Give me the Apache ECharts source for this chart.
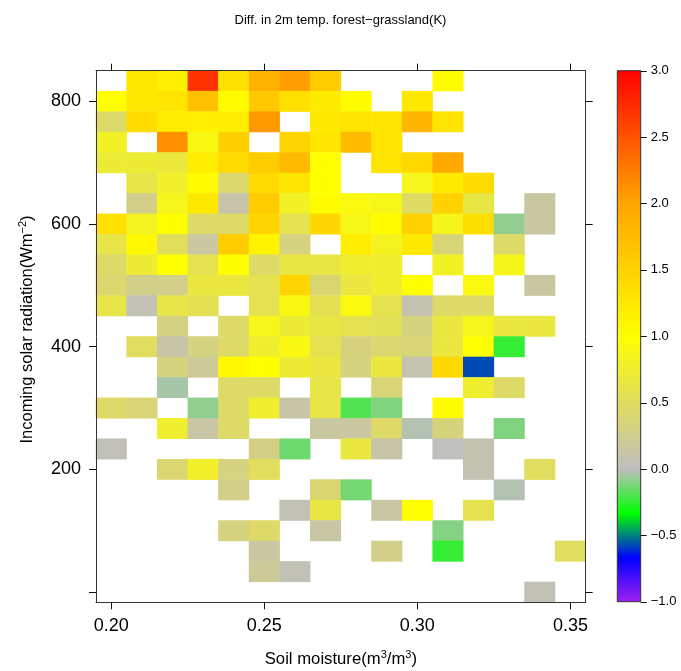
<!DOCTYPE html>
<html>
<head>
<meta charset="utf-8">
<title>Diff. in 2m temp. forest-grassland</title>
<script src="https://cdn.jsdelivr.net/npm/echarts@6/dist/echarts.min.js"></script>
<style>
  html, body { margin: 0; padding: 0; background: #fff; }
  #chart { width: 681px; height: 671px; }
</style>
</head>
<body>
<div id="chart"></div>
<script>
// soil moisture bins (m3/m3), one column each
const soilMoisture = ['0.20', '0.21', '0.22', '0.23', '0.24', '0.25', '0.26', '0.27',
    '0.28', '0.29', '0.30', '0.31', '0.32', '0.33', '0.34', '0.35'];

// incoming solar radiation bins (W m-2), bottom to top
const solarRadiation = ['0', '33', '67', '100', '133', '167', '200', '233', '267', '300',
    '333', '367', '400', '433', '467', '500', '533', '567', '600', '633', '667', '700',
    '733', '767', '800', '833'];

// temperature difference (K), rows from 833 down to 0, null = no data
const diffRows = [
    [null, 1.26, 1.17, 2.69, 1.32, 1.84, 2.03, 1.57, null, null, null, 1.03, null, null, null, null],
    [1.0, 1.26, 1.29, 1.7, 1.03, 1.61, 1.34, 1.22, 1.03, null, 1.26, null, null, null, null, null],
    [0.45, 1.39, 1.19, 1.17, 1.19, 2.07, null, 1.25, 1.3, 1.28, 1.81, 1.3, null, null, null, null],
    [0.8, null, 2.13, 0.9, 1.52, null, 1.47, 1.28, 1.76, 1.3, null, null, null, null, null, null],
    [0.72, 0.72, 0.68, 1.19, 1.41, 1.57, 1.76, 1.0, null, 1.3, 1.43, 1.95, null, null, null, null],
    [null, 0.62, 0.78, 1.03, 0.42, 1.41, 1.28, 1.0, null, null, 0.85, 1.23, 1.39, null, null, null],
    [null, 0.28, 0.85, 1.26, 0.1, 1.57, 0.8, 1.03, 0.92, 0.88, 0.48, 1.5, 0.64, null, 0.15, null],
    [1.34, 0.82, 1.0, 0.46, 0.46, 1.47, 0.58, 1.44, 0.88, 1.03, 1.5, 0.86, 1.36, -0.08, 0.15, null],
    [0.62, 1.08, 0.52, 0.16, 1.57, 1.12, 0.33, null, 1.19, 0.83, 1.26, 0.38, null, 0.45, null, null],
    [0.45, 0.72, 1.0, 0.58, 1.0, 0.46, 0.64, 0.64, 0.75, 0.75, null, 0.8, null, 0.86, null, null],
    [0.42, 0.28, 0.28, 0.66, 0.66, 0.58, 1.45, 0.4, 0.66, 0.75, 1.0, null, 0.92, null, 0.15, null],
    [0.62, 0.05, 0.62, 0.56, null, 0.58, 0.9, 0.56, 0.92, 0.58, 0.07, 0.46, 0.46, null, null, null],
    [null, null, 0.32, null, 0.46, 0.85, 0.72, 0.64, 0.58, 0.54, 0.33, 0.66, 0.85, 0.66, 0.66, null],
    [null, 0.5, 0.12, 0.33, 0.46, 0.75, 0.9, 0.58, 0.35, 0.41, 0.38, 0.66, 1.0, -0.24, null, null],
    [null, null, 0.33, 0.2, 1.08, 1.0, 0.72, 0.66, 0.33, 0.66, 0.08, 1.43, -0.57, null, null, null],
    [null, null, -0.04, null, 0.46, 0.46, null, 0.62, null, 0.38, null, null, 0.75, 0.46, null, null],
    [0.46, 0.38, null, -0.08, 0.46, 0.75, 0.12, 0.62, -0.19, -0.11, null, 1.03, null, null, null, null],
    [null, null, 0.75, 0.14, 0.46, null, null, 0.16, 0.16, 0.46, -0.02, 0.35, null, -0.11, null, null],
    [0.04, null, null, null, null, 0.3, -0.14, null, 0.66, 0.12, null, 0.01, 0.07, null, null, null],
    [null, null, 0.41, 0.78, 0.33, 0.5, null, null, null, null, null, null, 0.07, null, 0.5, null],
    [null, null, null, null, 0.28, null, null, 0.4, -0.13, null, null, null, null, -0.02, null, null],
    [null, null, null, null, null, null, 0.05, 0.64, null, 0.14, 1.0, null, 0.58, null, null, null],
    [null, null, null, null, 0.33, 0.46, null, 0.14, null, null, null, -0.1, null, null, null, null],
    [null, null, null, null, null, 0.16, null, null, null, 0.28, null, -0.24, null, null, null, 0.5],
    [null, null, null, null, null, 0.2, 0.05, null, null, null, null, null, null, null, null, null],
    [null, null, null, null, null, null, null, null, null, null, null, null, null, null, 0.05, null]
];

// colour scale, evenly spaced from colorMin to colorMax
const colorMin = -1;
const colorMax = 3;
const paletteColors = ['#A020F0', '#0000FF', '#00FF00', '#BEBEBE', '#D5D27F', '#EAE83F',
    '#FFFF00', '#FFE100', '#FFC300', '#FFA500', '#FF6E00', '#FF3700', '#FF0000'];
const colorbarTicks = [-1, -0.5, 0, 0.5, 1, 1.5, 2, 2.5, 3];

const FONT = '"Liberation Sans", Arial, Helvetica, sans-serif';
const INK = '#000';

const heatData = [];
diffRows.forEach((row, r) => {
    row.forEach((v, c) => {
        if (v !== null) {
            heatData.push([c, solarRadiation.length - 1 - r, v]);
        }
    });
});

const gradientStops = paletteColors.map((color, i) => ({
    offset: i / (paletteColors.length - 1),
    color: color
}));

const xTickEvery = (i) => i % 5 === 0;
const yTickEvery = (i) => i % 6 === 0;

const tickStyle = { color: '#111', width: 1, opacity: 1 };
const frameStyle = { color: '#333', width: 1 };

function fmtColorbar(v) {
    return v < 0 ? '\u2212' + Math.abs(v).toFixed(1) : v.toFixed(1);
}

const supStyle = { fontSize: 11, lineHeight: 11, verticalAlign: 'top', color: INK, fontFamily: FONT };

const chart = echarts.init(document.getElementById('chart'));

const option = {
    animation: false,
    backgroundColor: '#fff',
    textStyle: { fontFamily: FONT, color: INK },
    title: {
        text: 'Diff. in 2m temp. forest\u2212grassland(K)',
        left: 'center',
        top: 9,
        textStyle: { fontFamily: FONT, fontSize: 13, fontWeight: 'normal', color: INK }
    },
    grid: [
        { left: 96, top: 70.7, width: 489.7, height: 531.6, containLabel: false, outerBoundsMode: 'none' },
        { left: 617.3, top: 70.7, width: 23.4, height: 531, containLabel: false, outerBoundsMode: 'none' }
    ],
    xAxis: [
        {
            gridIndex: 0,
            type: 'category',
            data: soilMoisture,
            position: 'bottom',
            z: 5,
            axisLine: { show: true, lineStyle: frameStyle },
            axisTick: { show: true, inside: false, alignWithLabel: true, interval: xTickEvery, length: 7, lineStyle: tickStyle },
            axisLabel: { show: true, interval: xTickEvery, fontSize: 18, color: INK, margin: 15, fontFamily: FONT },
            splitLine: { show: false },
            name: 'Soil moisture(m{sup|3}/m{sup|3})',
            nameLocation: 'middle',
            nameGap: 47,
            nameTextStyle: {
                fontSize: 16.7, color: INK, fontFamily: FONT, lineHeight: 20,
                rich: { sup: supStyle }
            }
        },
        {
            gridIndex: 0,
            type: 'category',
            data: soilMoisture,
            position: 'top',
            z: 5,
            axisLine: { show: true, lineStyle: frameStyle },
            axisTick: { show: true, inside: false, alignWithLabel: true, interval: xTickEvery, length: 7, lineStyle: tickStyle },
            axisLabel: { show: false },
            splitLine: { show: false }
        },
        { gridIndex: 1, type: 'value', min: 0, max: 1, show: false }
    ],
    yAxis: [
        {
            gridIndex: 0,
            type: 'category',
            data: solarRadiation,
            position: 'left',
            z: 5,
            axisLine: { show: true, lineStyle: frameStyle },
            axisTick: { show: true, inside: false, alignWithLabel: true, interval: yTickEvery, length: 7, lineStyle: tickStyle },
            axisLabel: { show: true, interval: (i) => i % 6 === 0 && i > 0, fontSize: 18, color: INK, margin: 15, fontFamily: FONT },
            splitLine: { show: false },
            name: 'Incoming solar radiation(Wm{sup|\u22122})',
            nameLocation: 'middle',
            nameGap: 59,
            nameTextStyle: {
                fontSize: 16.5, color: INK, fontFamily: FONT, lineHeight: 20,
                padding: [0, 0, 0, 14],
                rich: { sup: supStyle }
            }
        },
        {
            gridIndex: 0,
            type: 'category',
            data: solarRadiation,
            position: 'right',
            z: 5,
            axisLine: { show: true, lineStyle: frameStyle },
            axisTick: { show: true, inside: false, alignWithLabel: true, interval: yTickEvery, length: 7, lineStyle: tickStyle },
            axisLabel: { show: false },
            splitLine: { show: false }
        },
        {
            gridIndex: 1,
            type: 'value',
            min: colorMin,
            max: colorMax,
            interval: 0.5,
            position: 'right',
            z: 5,
            axisLine: { show: false, onZero: false },
            axisTick: { show: false },
            axisLabel: { show: true, formatter: fmtColorbar, fontSize: 13, color: INK, margin: 10, fontFamily: FONT },
            splitLine: { show: false }
        }
    ],
    visualMap: {
        show: false,
        type: 'continuous',
        seriesIndex: 0,
        dimension: 2,
        min: colorMin,
        max: colorMax,
        inRange: { color: paletteColors }
    },
    series: [
        {
            name: 'diff',
            type: 'heatmap',
            xAxisIndex: 0,
            yAxisIndex: 0,
            data: heatData,
            silent: true,
            emphasis: { disabled: true },
            itemStyle: { borderWidth: 0 }
        },
        {
            // colour bar with its tick marks on the right edge
            name: 'colorbar',
            type: 'custom',
            xAxisIndex: 2,
            yAxisIndex: 2,
            silent: true,
            clip: false,
            encode: { x: [0, 2], y: [1, 3] },
            data: [[0, colorMin, 1, colorMax]],
            renderItem: (params, api) => {
                const p0 = api.coord([api.value(0), api.value(1)]);
                const p1 = api.coord([api.value(2), api.value(3)]);
                const children = [{
                    type: 'rect',
                    shape: { x: p0[0], y: p1[1], width: p1[0] - p0[0], height: p0[1] - p1[1] },
                    style: {
                        fill: new echarts.graphic.LinearGradient(0, 1, 0, 0, gradientStops),
                        stroke: '#333',
                        lineWidth: 1
                    }
                }];
                colorbarTicks.forEach((t) => {
                    const pt = api.coord([1, t]);
                    const y = Math.round(pt[1]) + 0.5;
                    children.push({
                        type: 'line',
                        shape: { x1: pt[0], y1: y, x2: pt[0] + 6, y2: y },
                        style: { stroke: '#111', lineWidth: 1 }
                    });
                });
                return { type: 'group', children: children };
            }
        }
    ]
};

chart.setOption(option);

window.addEventListener('resize', () => {
    chart.resize();
});
</script>
</body>
</html>
